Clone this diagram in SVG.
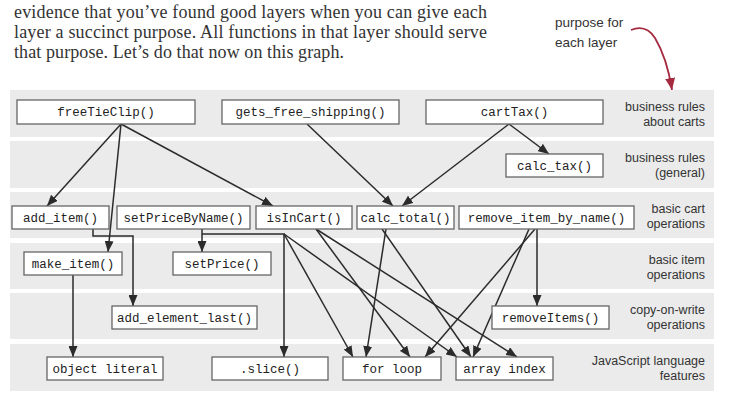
<svg xmlns="http://www.w3.org/2000/svg" width="729" height="403" viewBox="0 0 729 403">
<defs>
<style>
.band{fill:#ebebeb}
.para{font-family:"Liberation Serif",serif;font-size:18px;fill:#333}
.hand{font-family:"Liberation Sans",sans-serif;font-size:12.5px;fill:#333;text-anchor:end}
.note{font-family:"Liberation Sans",sans-serif;font-size:13.5px;fill:#333}
.box{fill:#fff;stroke:#666;stroke-width:1.3}
.code{font-family:"Liberation Mono",monospace;font-size:12.5px;fill:#222;text-anchor:middle}
.edge{fill:none;stroke:#2b2b2b;stroke-width:1.5;marker-end:url(#ah)}
</style>
<marker id="ah" markerUnits="userSpaceOnUse" markerWidth="11" markerHeight="9" refX="11" refY="4.5" orient="auto">
<path d="M0,0 L11,4.5 L0,9 z" fill="#2b2b2b"/>
</marker>
<marker id="rah" markerUnits="userSpaceOnUse" markerWidth="12" markerHeight="10" refX="12" refY="5" orient="auto">
<path d="M0,0 L12,5 L0,10 z" fill="#a52a3f"/>
</marker>
</defs>
<rect width="729" height="403" fill="#fff"/>
<g id="paragraph">
<text class="para" x="14" y="18" textLength="473" lengthAdjust="spacing">evidence that you’ve found good layers when you can give each</text>
<text class="para" x="14" y="38" textLength="473" lengthAdjust="spacing">layer a succinct purpose. All functions in that layer should serve</text>
<text class="para" x="14" y="58" textLength="330" lengthAdjust="spacing">that purpose. Let’s do that now on this graph.</text>
</g>
<g id="note">
<text class="note" x="555" y="27">purpose for</text>
<text class="note" x="555" y="47">each layer</text>
<path d="M631,30 Q646,24 655,38 Q667,58 672,90" fill="none" stroke="#a52a3f" stroke-width="1.8" marker-end="url(#rah)"/>
</g>
<g id="bands">
<rect class="band" x="10" y="90" width="704" height="47"/>
<rect class="band" x="10" y="141" width="704" height="47"/>
<rect class="band" x="10" y="192" width="704" height="46"/>
<rect class="band" x="10" y="243" width="704" height="46"/>
<rect class="band" x="10" y="293" width="704" height="46"/>
<rect class="band" x="10" y="344" width="704" height="47"/>
</g>
<g id="layer-labels">
<text class="hand" x="705" y="111">business rules</text>
<text class="hand" x="705" y="126">about carts</text>
<text class="hand" x="705" y="162">business rules</text>
<text class="hand" x="705" y="177">(general)</text>
<text class="hand" x="705" y="213">basic cart</text>
<text class="hand" x="705" y="228">operations</text>
<text class="hand" x="705" y="264">basic item</text>
<text class="hand" x="705" y="279">operations</text>
<text class="hand" x="705" y="314">copy-on-write</text>
<text class="hand" x="705" y="329">operations</text>
<text class="hand" x="705" y="365">JavaScript language</text>
<text class="hand" x="705" y="380">features</text>
</g>
<g id="connectors">
<path class="edge" d="M121,124 L47,206"/>
<path class="edge" d="M121,124 L108,252"/>
<path class="edge" d="M121,124 L273,206"/>
<path class="edge" d="M307,124 L393,206"/>
<path class="edge" d="M509,124 L402,206"/>
<path class="edge" d="M509,124 L549,154"/>
<path class="edge" d="M93,229 V236 H133 V306"/>
<path class="edge" d="M202,229 V252"/>
<path class="edge" d="M202,234 H284 V357"/>
<path class="edge" d="M284,234 L353,357"/>
<path class="edge" d="M284,234 L457,357"/>
<path class="edge" d="M316,229 L410,357"/>
<path class="edge" d="M316,229 L517,357"/>
<path class="edge" d="M386,229 L366,357"/>
<path class="edge" d="M382,229 L471,357"/>
<path class="edge" d="M535,229 L425,357"/>
<path class="edge" d="M529,229 L473,357"/>
<path class="edge" d="M537,229 V306"/>
<path class="edge" d="M73,275 V357"/>
</g>
<g id="node-freeTieClip"><rect class="box" x="17" y="100" width="178" height="24"/><text class="code" x="106" y="116">freeTieClip()</text></g>
<g id="node-gets_free_shipping"><rect class="box" x="222" y="100" width="177" height="24"/><text class="code" x="310.5" y="116">gets_free_shipping()</text></g>
<g id="node-cartTax"><rect class="box" x="426" y="100" width="177" height="24"/><text class="code" x="514.5" y="116">cartTax()</text></g>
<g id="node-calc_tax"><rect class="box" x="506" y="154" width="97" height="23"/><text class="code" x="554.5" y="170">calc_tax()</text></g>
<g id="node-add_item"><rect class="box" x="12" y="206" width="97" height="23"/><text class="code" x="60.5" y="222">add_item()</text></g>
<g id="node-setPriceByName"><rect class="box" x="117" y="206" width="133" height="23"/><text class="code" x="183.5" y="222">setPriceByName()</text></g>
<g id="node-isInCart"><rect class="box" x="256" y="206" width="96" height="23"/><text class="code" x="304" y="222">isInCart()</text></g>
<g id="node-calc_total"><rect class="box" x="357" y="206" width="97" height="23"/><text class="code" x="405.5" y="222">calc_total()</text></g>
<g id="node-remove_item_by_name"><rect class="box" x="459" y="206" width="175" height="23"/><text class="code" x="546.5" y="222">remove_item_by_name()</text></g>
<g id="node-make_item"><rect class="box" x="24" y="252" width="98" height="23"/><text class="code" x="73" y="268">make_item()</text></g>
<g id="node-setPrice"><rect class="box" x="173" y="252" width="98" height="23"/><text class="code" x="222" y="268">setPrice()</text></g>
<g id="node-add_element_last"><rect class="box" x="112" y="306" width="145" height="23"/><text class="code" x="184.5" y="322">add_element_last()</text></g>
<g id="node-removeItems"><rect class="box" x="492" y="306" width="117" height="23"/><text class="code" x="550.5" y="322">removeItems()</text></g>
<g id="node-object_literal"><rect class="box" x="47" y="357" width="116" height="23"/><text class="code" x="105" y="373">object literal</text></g>
<g id="node-slice"><rect class="box" x="212" y="357" width="116" height="23"/><text class="code" x="270" y="373">.slice()</text></g>
<g id="node-for_loop"><rect class="box" x="343" y="357" width="98" height="23"/><text class="code" x="392" y="373">for loop</text></g>
<g id="node-array_index"><rect class="box" x="456" y="357" width="97" height="23"/><text class="code" x="504.5" y="373">array index</text></g>
</svg>
